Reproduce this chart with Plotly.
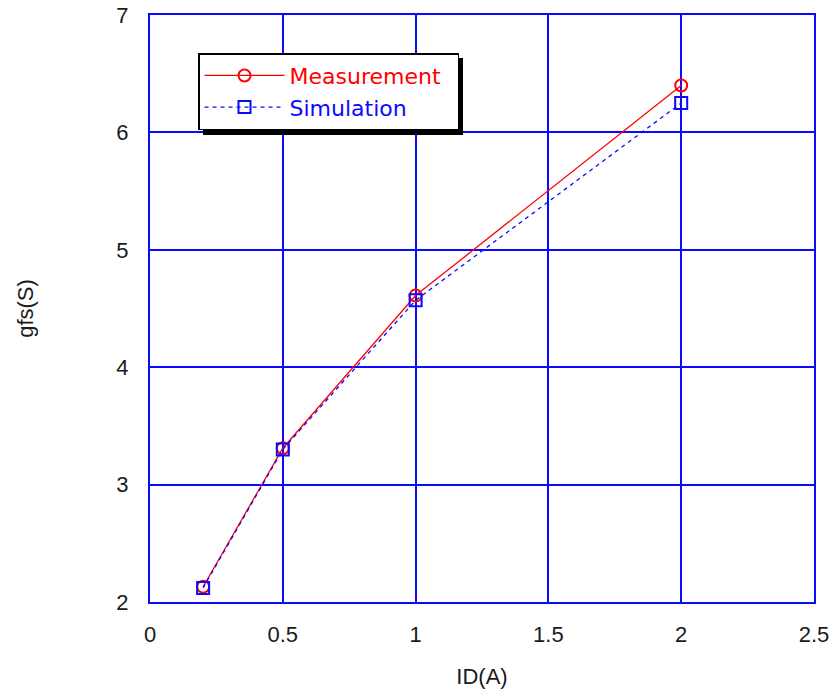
import plotly.graph_objects as go

id_a = [0.2, 0.5, 1.0, 2.0]
gfs_measurement = [2.13, 3.31, 4.61, 6.40]
gfs_simulation = [2.12, 3.30, 4.57, 6.25]
x_ticks = [0, 0.5, 1, 1.5, 2, 2.5]
x_labels = ["0", "0.5", "1", "1.5", "2", "2.5"]
y_ticks = [2, 3, 4, 5, 6, 7]

BLUE = "#0a0aff"
RED = "#ff0000"
FONT = "Liberation Sans, Arial, sans-serif"
LEGFONT = "DejaVu Sans, Liberation Sans, sans-serif"
PAD = "\u00a0\u2009"

fig = go.Figure()
fig.add_trace(go.Scatter(
    x=id_a, y=gfs_measurement,
    name="<span style='color:#ff0000'>Measurement</span>" + PAD, mode="lines+markers",
    line=dict(color=RED, width=1.3),
    marker=dict(symbol="circle-open", size=12, color=RED, line=dict(width=2, color=RED)),
))
fig.add_trace(go.Scatter(
    x=id_a, y=gfs_simulation,
    name="<span style='color:#0a0aff'>Simulation</span>", mode="lines+markers",
    line=dict(color=BLUE, width=1.3, dash="4px,4px"),
    marker=dict(symbol="square-open", size=12, color=BLUE, line=dict(width=2, color=BLUE)),
))

fig.update_layout(
    width=836, height=696,
    margin=dict(l=150, r=22, t=15, b=94),
    paper_bgcolor="white", plot_bgcolor="white",
    font=dict(family=FONT, size=22, color="#1a1a1a"),
    showlegend=True,
    legend=dict(
        x=0.0723, y=0.935, xanchor="left", yanchor="top",
        bgcolor="white", bordercolor="black", borderwidth=1.5,
        font=dict(size=22, family=LEGFONT),
        itemwidth=80, tracegroupgap=0,
    ),
    xaxis=dict(
        range=[0, 2.5], tickvals=x_ticks, ticktext=x_labels,
        showgrid=True, gridcolor=BLUE, gridwidth=2,
        showline=True, linecolor=BLUE, linewidth=2, mirror=True,
        zeroline=False, ticks="", ticklen=0, ticklabelstandoff=12,
        automargin=False,
        title=dict(text="ID(A)", standoff=22, font=dict(size=22)),
        tickfont=dict(size=22),
    ),
    yaxis=dict(
        range=[2, 7], tickvals=y_ticks,
        showgrid=True, gridcolor=BLUE, gridwidth=2,
        showline=True, linecolor=BLUE, linewidth=2, mirror=True,
        zeroline=False, ticks="", ticklen=0, ticklabelstandoff=15,
        automargin=False,
        title=dict(text="gfs(S)", standoff=77, font=dict(size=22)),
        tickfont=dict(size=22),
    ),
    shapes=[
        dict(type="rect", xref="paper", yref="paper",
             x0=0.0798, x1=0.4714, y0=0.7956, y1=0.9267,
             fillcolor="black", line=dict(width=0), layer="above"),
    ],
)

fig.write_html("out.html")
